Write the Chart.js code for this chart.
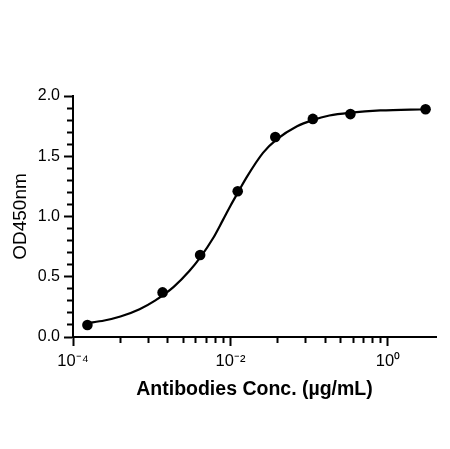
<!DOCTYPE html>
<html>
<head>
<meta charset="utf-8">
<script src="https://cdn.jsdelivr.net/npm/chart.js@4.4.0/dist/chart.umd.min.js"></script>
<style>
html,body{margin:0;padding:0;background:#fff;}
#wrap{width:450px;height:449px;position:relative;}
</style>
</head>
<body>
<div id="wrap"><canvas id="c"></canvas></div>
<script>
// Measured points (3-fold dilution series)
const concentrations = [0.0001524, 0.001372, 0.004115, 0.01235, 0.03704, 0.1111, 0.3333, 3.0];
const od450 = [0.10, 0.37, 0.68, 1.21, 1.66, 1.81, 1.85, 1.89];

// Fitted curve
const fitConc = [0.00015, 0.00025, 0.0004, 0.0007, 0.0011, 0.0019, 0.003, 0.0042, 0.006, 0.008, 0.01, 0.0127, 0.016, 0.026, 0.039, 0.07, 0.11, 0.18, 0.34, 0.8, 3.0];
const fitOd = [0.115, 0.137, 0.17, 0.231, 0.302, 0.416, 0.547, 0.667, 0.819, 0.97, 1.09, 1.21, 1.325, 1.53, 1.642, 1.749, 1.80, 1.838, 1.862, 1.88, 1.89];

// Axis ticks
const xMajorTicks = [0.0001, 0.01, 1];
const xTickLabels = ['10\u207B\u2074', '10\u207B\u00B2', '10\u2070'];
const xMinorTicks = [0.0004, 0.0009, 0.0016, 0.0025, 0.0036, 0.0049, 0.0064, 0.0081,
                     0.04, 0.09, 0.16, 0.25, 0.36, 0.49, 0.64, 0.81];
const yMajorTicks = [0, 0.5, 1.0, 1.5, 2.0];
const yTickLabels = ['0.0', '0.5', '1.0', '1.5', '2.0'];
const yMinorTicks = [0.1, 0.2, 0.3, 0.4, 0.6, 0.7, 0.8, 0.9, 1.1, 1.2, 1.3, 1.4, 1.6, 1.7, 1.8, 1.9];

const xRange = [0.0001, 4.07];
const yRange = [0, 2];

Chart.defaults.font.family = "'Liberation Sans', Arial, Helvetica, sans-serif";
Chart.defaults.color = '#000';

const isXMajor = v => xMajorTicks.some(m => Math.abs(Math.log10(m) - Math.log10(v)) < 1e-6);
const isYMajor = v => yMajorTicks.some(m => Math.abs(m - v) < 1e-6);

new Chart(document.getElementById('c'), {
  type: 'scatter',
  data: {
    datasets: [
      {
        label: 'OD450',
        data: concentrations.map((x, i) => ({x: x, y: od450[i]})),
        showLine: false,
        pointRadius: 5.3,
        pointHoverRadius: 5.3,
        pointBackgroundColor: '#000',
        pointBorderColor: '#000',
        pointBorderWidth: 0
      },
      {
        label: 'Fit',
        data: fitConc.map((x, i) => ({x: x, y: fitOd[i]})),
        showLine: true,
        cubicInterpolationMode: 'monotone',
        borderColor: '#000',
        borderWidth: 2.2,
        pointRadius: 0,
        pointHoverRadius: 0,
        fill: false
      }
    ]
  },
  options: {
    responsive: true,
    maintainAspectRatio: false,
    animation: false,
    events: [],
    layout: {padding: {top: 96, right: 14, left: 0, bottom: 0}},
    plugins: {legend: {display: false}, tooltip: {enabled: false}},
    scales: {
      x: {
        type: 'logarithmic',
        position: 'bottom',
        min: xRange[0],
        max: xRange[1],
        afterBuildTicks: s => {
          s.ticks = xMajorTicks.concat(xMinorTicks).sort((a, b) => a - b).map(v => ({value: v}));
        },
        afterFit: s => { s.height = 449 - 337; },
        border: {display: true, color: '#000', width: 2},
        grid: {
          display: true,
          drawOnChartArea: false,
          drawTicks: true,
          tickLength: 9,
          tickWidth: 2,
          tickColor: '#000',
          tickBorderDash: ctx => (ctx.tick && isXMajor(ctx.tick.value)) ? [] : [5, 100]
        },
        ticks: {
          autoSkip: false,
          maxRotation: 0,
          padding: 6,
          color: '#000',
          font: {size: 16.5},
          callback: (v) => {
            const k = xMajorTicks.findIndex(m => Math.abs(Math.log10(m) - Math.log10(v)) < 1e-6);
            return k >= 0 ? xTickLabels[k] : '';
          }
        },
        title: {
          display: true,
          text: 'Antibodies Conc. (\u00B5g/mL)',
          color: '#000',
          font: {size: 19.5, weight: 'bold'},
          padding: {top: 0, bottom: 48}
        }
      },
      y: {
        type: 'linear',
        position: 'left',
        min: yRange[0],
        max: yRange[1],
        afterBuildTicks: s => {
          s.ticks = yMajorTicks.concat(yMinorTicks).sort((a, b) => a - b).map(v => ({value: v}));
        },
        afterFit: s => { s.width = 73; },
        border: {display: true, color: '#000', width: 2},
        grid: {
          display: true,
          drawOnChartArea: false,
          drawTicks: true,
          tickLength: 9,
          tickWidth: 2,
          tickColor: '#000',
          tickBorderDash: ctx => (ctx.tick && isYMajor(ctx.tick.value)) ? [] : [0, 3, 6, 100]
        },
        ticks: {
          autoSkip: false,
          padding: 4,
          color: '#000',
          font: {size: 16},
          callback: (v) => {
            const k = yMajorTicks.findIndex(m => Math.abs(m - v) < 1e-6);
            return k >= 0 ? yTickLabels[k] : '';
          }
        },
        title: {
          display: true,
          text: 'OD450nm',
          color: '#000',
          font: {size: 19, weight: 'normal'},
          padding: {top: 9, bottom: 0}
        }
      }
    }
  }
});
</script>
</body>
</html>
